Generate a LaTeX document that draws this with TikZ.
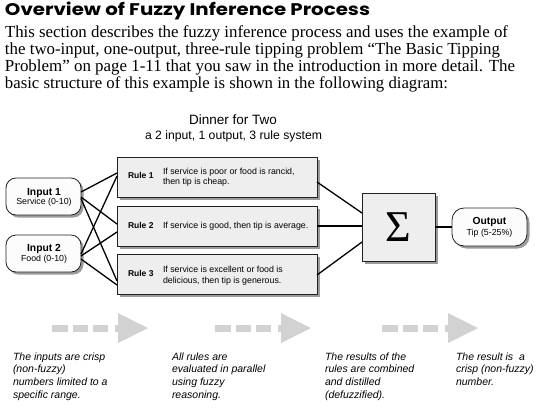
\documentclass[tikz,border=0pt]{standalone}
\usepackage{fontspec}
\setmainfont{Liberation Serif}
\newfontfamily\arialf{Liberation Sans}
\newfontfamily\titlef{Poppins}
\usetikzlibrary{shadows}
\definecolor{boxfill}{HTML}{EEEEEE}
\definecolor{iofill}{HTML}{FCFCFC}
\definecolor{boxline}{HTML}{222222}
\definecolor{shadowgray}{HTML}{8A8A8A}
\definecolor{arrowgray}{HTML}{D2D2D2}
\begin{document}
\begin{tikzpicture}[x=1pt,y=-1pt,
  every node/.style={inner sep=0pt, outer sep=0pt},
  bodytext/.style={font=\fontsize{13.5}{16}\selectfont, anchor=base west},
  shadowed/.style={drop shadow={shadow xshift=2.5pt, shadow yshift=-2.5pt, fill=shadowgray, opacity=0.85}},
  rulebox/.style={draw=boxline, line width=0.8pt, fill=boxfill, minimum width=200pt, minimum height=40pt, shadowed},
  sigbox/.style={draw=boxline, line width=0.8pt, fill=boxfill, minimum width=73pt, minimum height=68pt, shadowed},
  iobox/.style={draw=boxline, line width=0.8pt, fill=iofill, rounded corners=10pt, minimum width=75pt, minimum height=37pt, shadowed},
  rulelabel/.style={font=\arialf\bfseries\fontsize{8.5}{10}\selectfont, anchor=base west},
  ruletext/.style={font=\arialf\fontsize{8.8}{10.8}\selectfont, anchor=base west, align=left},
  iotitle/.style={font=\arialf\bfseries\fontsize{10.3}{12}\selectfont, anchor=base},
  iosub/.style={font=\arialf\fontsize{8.8}{10}\selectfont, anchor=base},
  wire/.style={line width=1.3pt, black},
  bigarrow/.style={fill=arrowgray, draw=none},
  note/.style={font=\arialf\itshape\fontsize{10.5}{12.7}\selectfont, anchor=base west, align=left}
]
\useasboundingbox (0,0) rectangle (540,408);
\fill[white] (0,0) rectangle (540,408);

% heading and body text
\node[anchor=base west] (title) at (5,15.5) {\resizebox{365pt}{13.5pt}{\titlef\bfseries Overview of Fuzzy Inference Process}};
\node[bodytext] (l1) at (5,37) {\resizebox{503pt}{!}{This section describes the fuzzy inference process and uses the example of}};
\node[bodytext] (l2) at (5,54) {\resizebox{495pt}{!}{the two-input, one-output, three-rule tipping problem “The Basic Tipping}};
\node[bodytext] (l3) at (5,71) {\resizebox{510pt}{!}{Problem” on page 1-11 that you saw in the introduction in more detail. The}};
\node[bodytext] (l4) at (5,88) {\resizebox{443pt}{!}{basic structure of this example is shown in the following diagram:}};

% diagram heading
\node[font=\arialf\fontsize{13.5}{15}\selectfont, anchor=base] (dtitle) at (233,124) {Dinner for Two};
\node[font=\arialf\fontsize{12.2}{14}\selectfont, anchor=base] (dsub) at (233.5,139) {a 2 input, 1 output, 3 rule system};

% boxes
\node[rulebox] (r1) at (217,177) {};
\node[rulebox] (r2) at (217,226) {};
\node[rulebox] (r3) at (217,274) {};
\node[iobox] (in1) at (43.5,196.5) {};
\node[iobox] (in2) at (43.5,253.5) {};
\node[sigbox, font=\fontsize{44}{44}\selectfont] (sig) at (398.5,227) {Σ};
\node[iobox, minimum height=38pt, rounded corners=12pt] (out) at (489.5,227) {};

% wires
\draw[wire] ([yshift=4.5pt]in1.east) -- ([yshift=4pt]r1.west);
\draw[wire] ([yshift=-0.5pt]in1.east) -- ([yshift=2pt]r2.west);
\draw[wire] ([yshift=-2pt]in1.east) -- ([yshift=-7pt]r3.west);
\draw[wire] ([yshift=-0.5pt]in2.east) -- ([yshift=1pt]r1.west);
\draw[wire] ([yshift=-2.5pt]in2.east) -- ([yshift=-6pt]r2.west);
\draw[wire] ([yshift=-5.5pt]in2.east) -- ([yshift=-11pt]r3.west);
\draw[wire] ([yshift=-5pt]r1.east) -- ([yshift=14pt]sig.west);
\draw[wire] (r2.east) -- (r2.east -| sig.west);
\draw[wire] ([yshift=-1pt]r3.east) -- ([yshift=-15pt]sig.west);
\draw[wire] (sig.east) -- (out.west);

% box texts (multi-line nodes: base = last line)
\node[rulelabel] (r1l) at (128,178.5) {Rule 1};
\node[ruletext] (r1t) at (163,184.8) {If service is poor or food is rancid,\\then tip is cheap.};
\node[rulelabel] (r2l) at (128,228) {Rule 2};
\node[ruletext] (r2t) at (163,228) {If service is good, then tip is average.};
\node[rulelabel] (r3l) at (128,276.5) {Rule 3};
\node[ruletext] (r3t) at (163,283.3) {If service is excellent or food is\\delicious, then tip is generous.};
\node[iotitle] (in1a) at (44,195) {Input 1};
\node[iosub] (in1b) at (44,204.5) {Service (0-10)};
\node[iotitle] (in2a) at (44,251.5) {Input 2};
\node[iosub] (in2b) at (44,261.5) {Food (0-10)};
\node[iotitle] (outa) at (489.5,224.5) {Output};
\node[iosub] (outb) at (489.5,235) {Tip (5-25\%)};

% grey process arrows
\foreach \s in {52,215,382}{
  \fill[bigarrow] (\s,325) rectangle ++(16,6.5);
  \fill[bigarrow] (\s+21,325) rectangle ++(15,6.5);
  \fill[bigarrow] (\s+41,325) rectangle ++(15,6.5);
  \fill[bigarrow] (\s+63,325) rectangle ++(5,6.5);
  \fill[bigarrow] (\s+66,313) -- (\s+96,328) -- (\s+66,343) -- cycle;
}

% notes (base = last line)
\node[note] (n1) at (13,398.1) {The inputs are crisp\\(non-fuzzy)\\numbers limited to a\\specific range.};
\node[note] (n2) at (172,398.1) {All rules are\\evaluated in parallel\\using fuzzy\\reasoning.};
\node[note] (n3) at (325,398.1) {The results of the\\rules are combined\\and distilled\\(defuzzified).};
\node[note] (n4) at (456,385.4) {The result is \ a\\crisp (non-fuzzy)\\number.};
\end{tikzpicture}
\end{document}
